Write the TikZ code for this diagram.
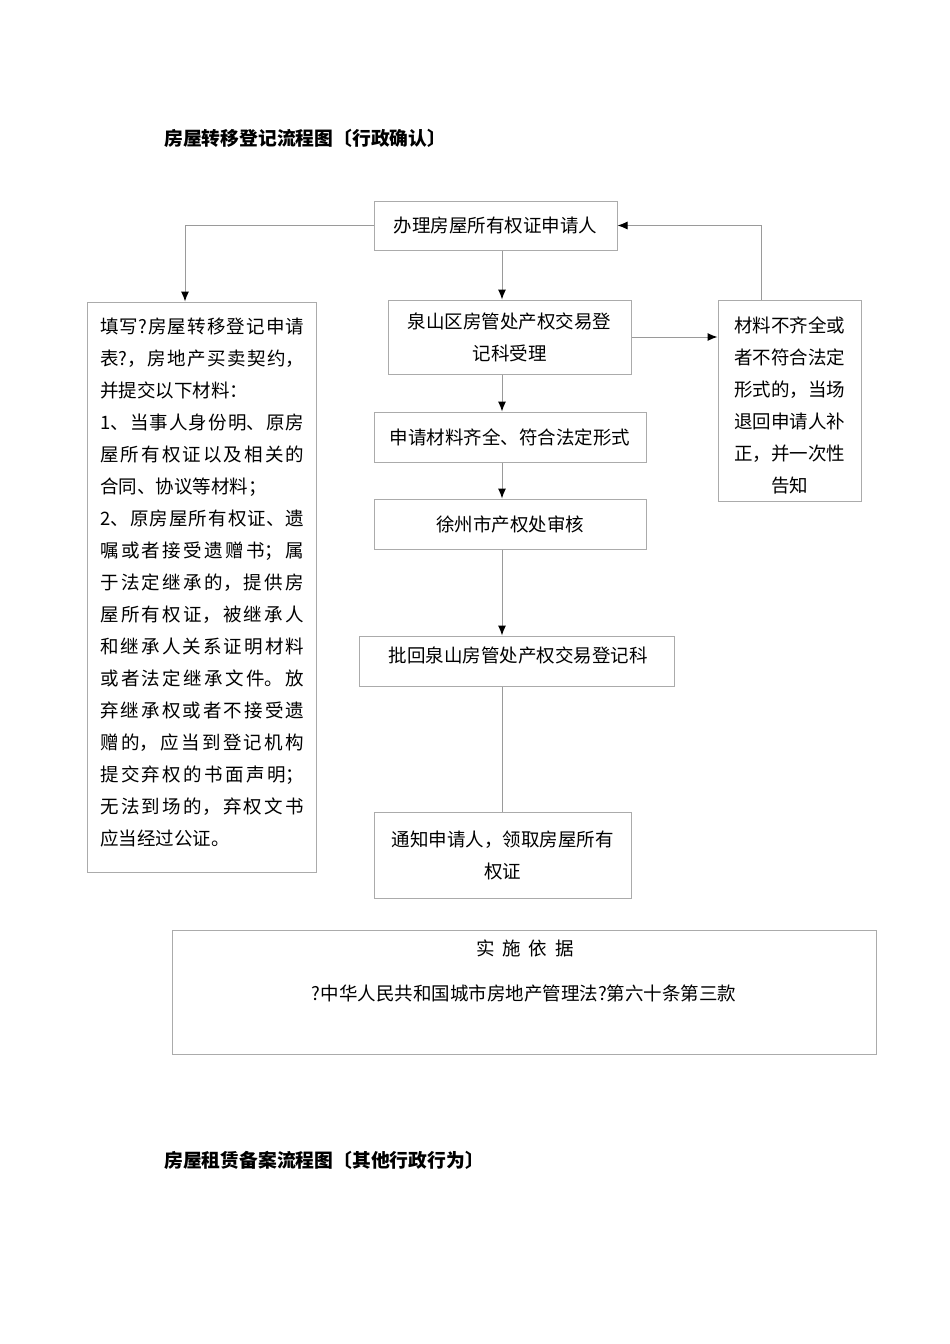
\documentclass[tikz,border=0pt]{standalone}
\usepackage{fontspec}
\setmainfont{Noto Sans CJK SC}
\usetikzlibrary{arrows.meta}
\definecolor{boxgray}{HTML}{ABABAB}
\definecolor{linegray}{HTML}{9A9A9A}
\tikzset{
  box/.style={draw=boxgray, line width=1pt, inner sep=0pt, align=center,
    font=\fontsize{18.5}{32}\selectfont},
  txt/.style={inner sep=0pt, font=\fontsize{18.5}{32}\selectfont},
  ttl/.style={inner sep=0pt, anchor=west, font=\fontsize{18.8}{22}\selectfont\bfseries},
  conn/.style={draw=linegray, line width=1pt},
  arr/.style={conn, -{Latex[length=10pt,width=8pt,color=black]}},
}
\begin{document}
\begin{tikzpicture}[x=1pt,y=-1pt]
\useasboundingbox (0,0) rectangle (950,1344);
\fill[white] (0,0) rectangle (950,1344);

\node[ttl] (t1) at (164,138) {房屋转移登记流程图〔行政确认〕};
\node[ttl] (t2) at (164,1160) {房屋租赁备案流程图〔其他行政行为〕};

\node[box, minimum width=243pt, minimum height=49pt] (A) at (495.5,225.5) {办理房屋所有权证申请人};
\node[box, minimum width=229pt, minimum height=570pt] (L) at (201.5,587) {};
\node[txt, text width=204pt, align=justify, anchor=west] (Lt) at (100,582.5) {\parindent=0pt\XeTeXlinebreaklocale "zh"\XeTeXlinebreakskip=0pt plus 3pt\relax
填写?房屋转移登记申请\linebreak
表?，房地产买卖契约，\linebreak
并提交以下材料：\par
1、当事人身份明、原房\linebreak
屋所有权证以及相关的\linebreak
合同、协议等材料；\par
2、原房屋所有权证、遗\linebreak
嘱或者接受遗赠书；属\linebreak
于法定继承的，提供房\linebreak
屋所有权证，被继承人\linebreak
和继承人关系证明材料\linebreak
或者法定继承文件。放\linebreak
弃继承权或者不接受遗\linebreak
赠的，应当到登记机构\linebreak
提交弃权的书面声明；\linebreak
无法到场的，弃权文书\linebreak
应当经过公证。\par};
\node[box, minimum width=243pt, minimum height=74pt] (B) at (509.5,337) {泉山区房管处产权交易登\\记科受理};
\node[box, minimum width=143pt, minimum height=201pt] (R) at (789.5,400.5) {};
\node[txt, align=center] (Rt) at (789.5,405) {材料不齐全或\\者不符合法定\\形式的，当场\\退回申请人补\\正，并一次性\\告知};
\node[box, minimum width=272pt, minimum height=50pt] (C) at (510,437) {申请材料齐全、符合法定形式};
\node[box, minimum width=272pt, minimum height=50pt] (D) at (510,524) {徐州市产权处审核};
\node[box, minimum width=315pt, minimum height=50pt] (E) at (516.5,661) {};
\node[txt] (Et) at (518,655) {批回泉山房管处产权交易登记科};
\node[box, minimum width=257pt, minimum height=86pt] (F) at (502.5,855) {通知申请人，领取房屋所有\\权证};
\node[box, minimum width=704pt, minimum height=124pt] (G) at (524,992) {};
\node[txt] (Gt) at (525,948) {实\hspace{8pt}施\hspace{8pt}依\hspace{8pt}据};
\node[txt] (Gl) at (524,993) {?中华人民共和国城市房地产管理法?第六十条第三款};

\coordinate (axis) at (502,0);
\coordinate (lc) at (185,225.5);
\coordinate (rc) at (761,225.5);

\draw[arr] (A.west) -- (lc) -- (lc |- L.north);
\draw[arr] (A.south -| axis) -- (B.north -| axis);
\draw[arr] (B.east) -- (R.west |- B.east);
\draw[arr] (R.north -| rc) -- (rc) -- (A.east);
\draw[arr] (B.south -| axis) -- (C.north -| axis);
\draw[arr] (C.south -| axis) -- (D.north -| axis);
\draw[arr] (D.south -| axis) -- (E.north -| axis);
\draw[conn] (E.south -| axis) -- (F.north -| axis);
\end{tikzpicture}
\end{document}
